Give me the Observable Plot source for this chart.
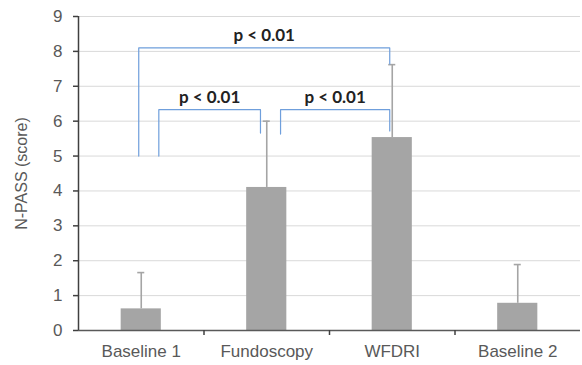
<!DOCTYPE html>
<html><head><meta charset="utf-8">
<script src="https://cdn.jsdelivr.net/npm/d3@7"></script>
<script src="https://cdn.jsdelivr.net/npm/@observablehq/plot@0.6"></script>
<style>body{margin:0;background:#fff}</style>
</head><body><div id="chart"></div>
<script>
const categories = ["Baseline 1", "Fundoscopy", "WFDRI", "Baseline 2"];
const means = [0.62, 4.1, 5.53, 0.78];
const upperErr = [1.66, 6.0, 7.62, 1.89];
const yTicks = [0, 1, 2, 3, 4, 5, 6, 7, 8, 9];
// brackets (x in category index units, y in score units)
const bracketFrom = [-0.02, 0.14, 1.11];
const bracketTo = [1.98, 0.95, 1.98];
const bracketTop = [8.1, 6.33, 6.33];
const bracketFromEnd = [5.0, 5.0, 5.63];
const bracketToEnd = [7.64, 5.66, 5.72];
const bracketLabels = ["p < 0.01", "p < 0.01", "p < 0.01"];

const bars = categories.map((c, i) => ({i, c, mean: means[i], upper: upperErr[i]}));
const brackets = bracketLabels.map((t, k) => ({
  k, t, x1: bracketFrom[k], x2: bracketTo[k], top: bracketTop[k],
  y1: bracketFromEnd[k], y2: bracketToEnd[k], mid: (bracketFrom[k] + bracketTo[k]) / 2
}));
const bracketPts = brackets.flatMap(b => [
  {k: b.k, x: b.x1, y: b.y1}, {k: b.k, x: b.x1, y: b.top},
  {k: b.k, x: b.x2, y: b.top}, {k: b.k, x: b.x2, y: b.y2}
]);

const barColor = "#a5a5a5";
const axisColor = "#595959";

const chart = Plot.plot({
  width: 582, height: 365,
  marginLeft: 78, marginRight: 2, marginTop: 16, marginBottom: 35,
  style: {fontFamily: "'Liberation Sans', Arial, sans-serif", color: axisColor, background: "#fff"},
  x: {type: "linear", domain: [-0.5, 3.5]},
  y: {domain: [0, 9]},
  marks: [
    Plot.gridY(yTicks.slice(1), {stroke: "#d9d9d9", strokeOpacity: 1, strokeWidth: 1}),
    Plot.rectY(bars, {x1: d => d.i - 0.16, x2: d => d.i + 0.16, y: "mean", fill: barColor}),
    Plot.ruleX(bars, {x: "i", y1: "mean", y2: "upper", stroke: barColor, strokeWidth: 1.6}),
    Plot.ruleY(bars, {y: "upper", x1: d => d.i - 0.028, x2: d => d.i + 0.028, stroke: barColor, strokeWidth: 1.6}),
    Plot.ruleY([0], {stroke: axisColor, strokeWidth: 1.5}),
    Plot.ruleX([-0.5], {y1: 0, y2: 9, stroke: "#404040", strokeWidth: 1.5}),
    Plot.axisY({ticks: yTicks, tickSize: 5, tickPadding: 11, fontSize: 17, label: null, stroke: "#404040", strokeWidth: 1.5}),
    Plot.axisX({ticks: [0.5, 1.5, 2.5], tickSize: 5, tickFormat: () => "", label: null, stroke: "#404040", strokeWidth: 1.5}),
    Plot.axisX({ticks: [0, 1, 2, 3], tickSize: 0, tickPadding: 14, tickFormat: i => categories[i], fontSize: 17, label: null, ariaLabel: "xlabels"}),
    Plot.text(["N-PASS (score)"], {frameAnchor: "left", textAnchor: "middle", dx: -57, rotate: -90, fontSize: 16, fill: axisColor}),
    Plot.line(bracketPts, {x: "x", y: "y", z: "k", stroke: "#6f9fdc", strokeWidth: 1.2}),
    Plot.text(brackets, {x: "mid", y: "top", text: "t", dy: -12, fontSize: 17, fontWeight: "bold",
      fontFamily: "Lato, 'Open Sans', sans-serif", fill: "#222", ariaLabel: "pvalue"})
  ]
});
document.getElementById("chart").appendChild(chart);
chart.querySelectorAll('g[aria-label="xlabels"] text').forEach(t => t.setAttribute("letter-spacing", "0.5"));
const ns = "http://www.w3.org/2000/svg";
chart.querySelectorAll('g[aria-label="pvalue"] text').forEach(t => {
  const s = t.textContent;
  t.textContent = "";
  const a = document.createElementNS(ns, "tspan");
  a.setAttribute("fill-opacity", "0");
  a.textContent = s.slice(0, 1);
  const b = document.createElementNS(ns, "tspan");
  b.textContent = s.slice(1);
  t.appendChild(a); t.appendChild(b);
  const pos = t.getStartPositionOfChar(0);
  const g = document.createElementNS(ns, "g");
  g.setAttribute("transform", `${t.getAttribute("transform") || ""} translate(${pos.x},${pos.y}) skewX(-13)`);
  const pt = document.createElementNS(ns, "text");
  pt.setAttribute("text-anchor", "start");
  pt.textContent = s.slice(0, 1);
  g.appendChild(pt);
  t.parentNode.appendChild(g);
});
</script>
</body></html>
